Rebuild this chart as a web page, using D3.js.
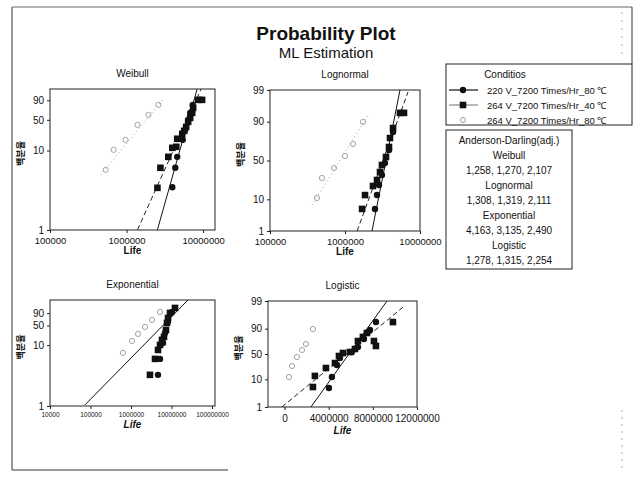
<!DOCTYPE html>
<html>
<head>
<meta charset="utf-8">
<title>Probability Plot</title>
<script src="https://cdnjs.cloudflare.com/ajax/libs/d3/7.8.5/d3.min.js"></script>
<style>
  body { margin: 0; background: #fff; }
  svg text { fill: #111; }
</style>
</head>
<body>
<svg id="chart" width="642" height="478"></svg>
<script>
// values: [life, cumulative percent]
const seriesNames = ["220 V_7200 Times/Hr_80 \u2103", "264 V_7200 Times/Hr_40 \u2103", "264 V_7200 Times/Hr_80 \u2103"];
const adHeader = "Anderson-Darling(adj.)";
const adNames = ["Weibull", "Lognormal", "Exponential", "Logistic"];
const adValues = ["1,258, 1,270, 2,107", "1,308, 1,319, 2,111", "4,163, 3,135, 2,490", "1,278, 1,315, 2,254"];

const weibullS1 = [[3.96e6,1.1],[4.33e6,3.6],[4.59e6,6.9],[5.42e6,18.4],[5.83e6,31.3],[6.38e6,49.9],[6.78e6,65.5],[7.31e6,82.4]];
const weibullS2 = [[2.53e6,1.06],[2.77e6,3.58],[3.51e6,6.9],[3.96e6,11.7],[4.46e6,12.4],[4.59e6,19.5],[5.34e6,25.4],[5.66e6,29.7],[6.01e6,36.2],[6.38e6,45.8],[6.78e6,54.3],[7.20e6,65.5],[7.41e6,76.4],[8.61e6,90.6],[9.70e6,90.6]];
const weibullS3 = [[5.34e5,3.17],[6.78e5,10.4],[9.70e5,18.4],[1.39e6,39.9],[1.93e6,61.0],[2.61e6,82.4]];
const weibullFits = [[[2.53e6,0.081],[8.36e6,99]], [[1.39e6,0.081],[9.42e6,99]], [[4.59e5,2.35],[3.03e6,91.9]]];

const lognormS1 = [[2.51e6,5.5],[2.67e6,12.7],[2.84e6,20.9],[3.11e6,31.6],[3.41e6,46.7],[3.86e6,63.6],[4.37e6,82.7]];
const lognormS2 = [[1.69e6,5.5],[1.85e6,12.7],[2.36e6,20.0],[2.67e6,26.0],[2.93e6,35.2],[3.11e6,44.1],[3.52e6,54.6],[3.86e6,67.2],[3.98e6,77.1],[4.37e6,85.8],[5.41e6,94.2],[6.12e6,94.2]];
const lognormS3 = [[4.23e5,10.8],[4.93e5,28.2],[7.13e5,40.2],[1.0e6,55.9],[1.28e6,70.7],[1.74e6,89.8]];
const lognormFits = [[[2.29e6,1],[5.41e6,99]], [[1.45e6,1],[6.92e6,98.8]], [[3.63e5,7.1],[2.03e6,93.3]]];

const expoS1 = [[4.64e6,0.6],[5.2e6,2.76],[6.17e6,12.2],[6.92e6,28.9],[8.2e6,64],[1.03e7,92.3]];
const expoS2 = [[2.94e6,0.6],[3.92e6,2.76],[4.64e6,6.4],[5.2e6,10.2],[5.82e6,16.0],[6.53e6,20.7],[7.31e6,36.5],[7.74e6,59.0],[8.2e6,76.4],[9.18e6,90.3],[1.22e7,97.7]];
const expoS3 = [[6.34e5,4.86],[1.06e6,14.6],[1.49e6,26.6],[2.22e6,45.5],[3.30e6,69.5],[5.2e6,92.3]];
const expoFits = [[[7.31e4,0.0335],[2.55e7,99.97]]];

const logisS1 = [[4.02e6,5.0],[4.29e6,12.0],[4.75e6,27.8],[5.02e6,41.4],[6.10e6,54.3],[6.65e6,64.7],[7.19e6,78.6],[7.74e6,88.9],[8.28e6,94.1]];
const logisS2 = [[2.57e6,5.4],[2.75e6,13.0],[3.75e6,22.9],[4.57e6,31.4],[4.93e6,45.7],[5.29e6,52.2],[5.92e6,54.3],[6.38e6,60.7],[6.65e6,75.5],[7.10e6,81.4],[7.46e6,86.1],[8.10e6,75.5],[8.28e6,66.7],[9.82e6,94.1]];
const logisS3 = [[0.40e6,12.0],[0.67e6,26.1],[1.12e6,43.5],[1.58e6,58.6],[1.94e6,70.4],[2.57e6,89.7]];
const logisFits = [[[2.39e6,1],[9.28e6,99]], [[-0.24e6,1],[10.73e6,98.3]]];

// axis ticks
const decadeTicks = [1e5, 1e6, 1e7];
const decadeLabels = ["100000", "1000000", "10000000"];
const expoXTicks = [1e4, 1e5, 1e6, 1e7, 1e8];
const expoXLabels = ["10000", "100000", "1000000", "10000000", "100000000"];
const logisXTicks = [0, 4e6, 8e6, 12e6];
const logisXLabels = ["0", "4000000", "8000000", "12000000"];
const weibullYTicks = [0.08, 10, 50, 90];
const expoYTicks = [0.03, 10, 50, 90];
const shortYLabels = ["1", "10", "50", "90"];
const fullYTicks = [1, 10, 50, 90, 99];
const fullYLabels = ["1", "10", "50", "90", "99"];

const FONT = "'Liberation Sans Narrow','Liberation Sans',Arial,sans-serif";
const KFONT = "'Noto Sans CJK KR',sans-serif";

// inverse normal cdf (Acklam)
function probit(p) {
    const a = [-39.69683028665376, 220.9460984245205, -275.9285104469687, 138.3577518672690, -30.66479806614716, 2.506628277459239];
    const b = [-54.47609879822406, 161.5858368580409, -155.6989798598866, 66.80131188771972, -13.28068155288572];
    const c = [-0.007784894002430293, -0.3223964580411365, -2.400758277161838, -2.549671010584218, 4.374664141464968, 2.938163982698783];
    const d = [0.007784695709041462, 0.3224671290700398, 2.445134137142996, 3.754408661907416];
    const pl = 0.02425;
    if (p < pl) {
        const q = Math.sqrt(-2 * Math.log(p));
        return (((((c[0]*q+c[1])*q+c[2])*q+c[3])*q+c[4])*q+c[5]) / ((((d[0]*q+d[1])*q+d[2])*q+d[3])*q+1);
    }
    if (p > 1 - pl) return -probit(1 - p);
    const q = p - 0.5, r = q * q;
    return (((((a[0]*r+a[1])*r+a[2])*r+a[3])*r+a[4])*r+a[5])*q / (((((b[0]*r+b[1])*r+b[2])*r+b[3])*r+b[4])*r+1);
}
const sev = p => Math.log(-Math.log(1 - p));
const logit = p => Math.log(p / (1 - p));

const svg = d3.select("#chart");

// outer frame of the scanned page
const frame = svg.append("g").attr("stroke", "#333").attr("fill", "none");
frame.append("line").attr("x1", 12).attr("y1", 7).attr("x2", 12).attr("y2", 470);
frame.append("line").attr("x1", 12).attr("y1", 7).attr("x2", 632).attr("y2", 7).attr("stroke", "#666");
frame.append("line").attr("x1", 632).attr("y1", 7).attr("x2", 632).attr("y2", 64);
frame.append("line").attr("x1", 12).attr("y1", 470).attr("x2", 228).attr("y2", 470);
frame.append("line").attr("x1", 622).attr("y1", 12).attr("x2", 622).attr("y2", 60)
    .attr("stroke", "#aaa").attr("stroke-dasharray", "2,6");
frame.append("line").attr("x1", 622).attr("y1", 410).attr("x2", 622).attr("y2", 470)
    .attr("stroke", "#aaa").attr("stroke-dasharray", "2,5");

svg.append("text").attr("x", 326).attr("y", 40).attr("text-anchor", "middle")
    .style("font-family", FONT).style("font-size", "19px").style("font-weight", "bold")
    .text("Probability Plot");
svg.append("text").attr("x", 326).attr("y", 58).attr("text-anchor", "middle")
    .style("font-family", FONT).style("font-size", "15px")
    .text("ML Estimation");

const panels = [
    { id: "wb", title: "Weibull", box: [50, 89, 215, 230], xLog: true, xDomain: [1e5, 1.43e7],
      xTicks: decadeTicks, xLabels: decadeLabels, xFont: 9.5, xPad: 4, lifeDy: 24, lifeItalic: false,
      t: sev, yDomain: [0.08, 99], yTicks: weibullYTicks, yLabels: shortYLabels,
      series: [weibullS1, weibullS2, weibullS3], fits: weibullFits },
    { id: "ln", title: "Lognormal", box: [270, 90, 420, 231], xLog: true, xDomain: [1e5, 1e7],
      xTicks: decadeTicks, xLabels: decadeLabels, xFont: 9.5, xPad: 4, lifeDy: 24, lifeItalic: false,
      t: probit, yDomain: [1, 99], yTicks: fullYTicks, yLabels: fullYLabels,
      series: [lognormS1, lognormS2, lognormS3], fits: lognormFits },
    { id: "ex", title: "Exponential", box: [50, 300, 215, 406], xLog: true, xDomain: [1e4, 1.186e8],
      xTicks: expoXTicks, xLabels: expoXLabels, xFont: 6.5, xPad: 3, lifeDy: 22, lifeItalic: true,
      t: sev, yDomain: [0.03, 99.97], yTicks: expoYTicks, yLabels: shortYLabels,
      series: [expoS1, expoS2, expoS3], fits: expoFits },
    { id: "lg", title: "Logistic", box: [268, 301, 417, 407], xLog: false, xDomain: [-1.5e6, 12e6],
      xTicks: logisXTicks, xLabels: logisXLabels, xFont: 10, xPad: 5, lifeDy: 27, lifeItalic: true,
      t: logit, yDomain: [1, 99], yTicks: fullYTicks, yLabels: fullYLabels,
      series: [logisS1, logisS2, logisS3], fits: logisFits }
];

const fitStyles = [
    { stroke: "#111", dash: null, width: 1 },
    { stroke: "#222", dash: "5,3", width: 1 },
    { stroke: "#999", dash: "1,3", width: 1 }
];

function drawMarker(sel, k) {
    if (k === 0) {
        sel.append("circle").attr("r", 3.2).attr("fill", "#111");
    } else if (k === 1) {
        sel.append("rect").attr("x", -3.3).attr("y", -3.3).attr("width", 6.6).attr("height", 6.6).attr("fill", "#111");
    } else {
        sel.append("circle").attr("r", 2.6).attr("fill", "none").attr("stroke", "#999").attr("stroke-width", 0.9);
    }
}

panels.forEach(cfg => {
    const [x0, y0, x1, y1] = cfg.box;
    const x = (cfg.xLog ? d3.scaleLog() : d3.scaleLinear()).domain(cfg.xDomain).range([x0, x1]);
    const y = d3.scaleLinear().domain(cfg.yDomain.map(p => cfg.t(p / 100))).range([y1, y0]);
    const py = pct => y(cfg.t(pct / 100));
    const g = svg.append("g");

    svg.append("clipPath").attr("id", "clip-" + cfg.id)
        .append("rect").attr("x", x0).attr("y", y0).attr("width", x1 - x0).attr("height", y1 - y0);

    g.append("text").attr("x", (x0 + x1) / 2).attr("y", y0 - 12).attr("text-anchor", "middle")
        .style("font-family", FONT).style("font-size", "10px").text(cfg.title);

    // axes
    const xa = g.append("g").attr("transform", `translate(0,${y1})`)
        .call(d3.axisBottom(x).tickValues(cfg.xTicks).tickFormat((d, i) => cfg.xLabels[i]).tickSize(3).tickPadding(cfg.xPad));
    xa.select(".domain").remove();
    xa.attr("font-family", FONT).attr("font-size", cfg.xFont).attr("color", "#222");

    const ya = g.append("g").attr("transform", `translate(${x0},0)`)
        .call(d3.axisLeft(y).tickValues(cfg.yTicks.map(p => cfg.t(p / 100))).tickFormat((d, i) => cfg.yLabels[i]).tickSize(3).tickPadding(3));
    ya.select(".domain").remove();
    ya.attr("font-family", FONT).attr("font-size", 10).attr("color", "#222");

    g.append("rect").attr("x", x0).attr("y", y0).attr("width", x1 - x0).attr("height", y1 - y0)
        .attr("fill", "none").attr("stroke", "#222").attr("stroke-width", 1);

    g.append("text").attr("x", (x0 + x1) / 2).attr("y", y1 + cfg.lifeDy).attr("text-anchor", "middle")
        .style("font-family", FONT).style("font-size", "10px").style("font-weight", "bold")
        .style("font-style", cfg.lifeItalic ? "italic" : "normal").text("Life");

    g.append("text").attr("transform", `translate(${x0 - 26},${(y0 + y1) / 2 - 6}) rotate(-90)`)
        .attr("text-anchor", "middle").style("font-family", KFONT).style("font-size", "9px").style("font-weight", "bold")
        .text("백분율");

    // fitted lines
    const fg = g.append("g").attr("clip-path", `url(#clip-${cfg.id})`);
    cfg.fits.forEach((f, k) => {
        const st = fitStyles[k];
        fg.append("line")
            .attr("x1", x(f[0][0])).attr("y1", py(f[0][1]))
            .attr("x2", x(f[1][0])).attr("y2", py(f[1][1]))
            .attr("stroke", st.stroke).attr("stroke-width", st.width)
            .attr("stroke-dasharray", st.dash);
    });

    // points, open series first so the filled ones sit on top
    [2, 1, 0].forEach(k => {
        g.append("g").selectAll("g")
            .data(cfg.series[k])
            .join("g")
            .attr("transform", d => `translate(${x(d[0])},${py(d[1])})`)
            .each(function () { drawMarker(d3.select(this), k); });
    });
});

// legend: conditions
const lg = svg.append("g");
lg.append("rect").attr("x", 446).attr("y", 64).attr("width", 186).attr("height", 61)
    .attr("fill", "#fff").attr("stroke", "#222");
lg.append("text").attr("x", 505).attr("y", 78).attr("text-anchor", "middle")
    .style("font-family", FONT).style("font-size", "10px").text("Conditios");
seriesNames.forEach((name, k) => {
    const cy = 90 + k * 15;
    const row = lg.append("g");
    if (k < 2) {
        row.append("line").attr("x1", 449).attr("x2", 478).attr("y1", cy).attr("y2", cy)
            .attr("stroke", k === 0 ? "#111" : "#888").attr("stroke-width", 1.2);
    }
    drawMarker(row.append("g").attr("transform", `translate(463,${cy})`), k);
    row.append("text").attr("x", 487).attr("y", cy + 3.5)
        .style("font-family", FONT).style("font-size", "9.5px").text(name);
});

// legend: Anderson-Darling values
const ad = svg.append("g");
ad.append("rect").attr("x", 446).attr("y", 130).attr("width", 126).attr("height", 139)
    .attr("fill", "#fff").attr("stroke", "#222");
const adLines = [adHeader];
adNames.forEach((n, i) => { adLines.push(n); adLines.push(adValues[i]); });
adLines.forEach((t, i) => {
    ad.append("text").attr("x", 509).attr("y", 144 + i * 15).attr("text-anchor", "middle")
        .style("font-family", FONT).style("font-size", "10px").text(t);
});
</script>
</body>
</html>
